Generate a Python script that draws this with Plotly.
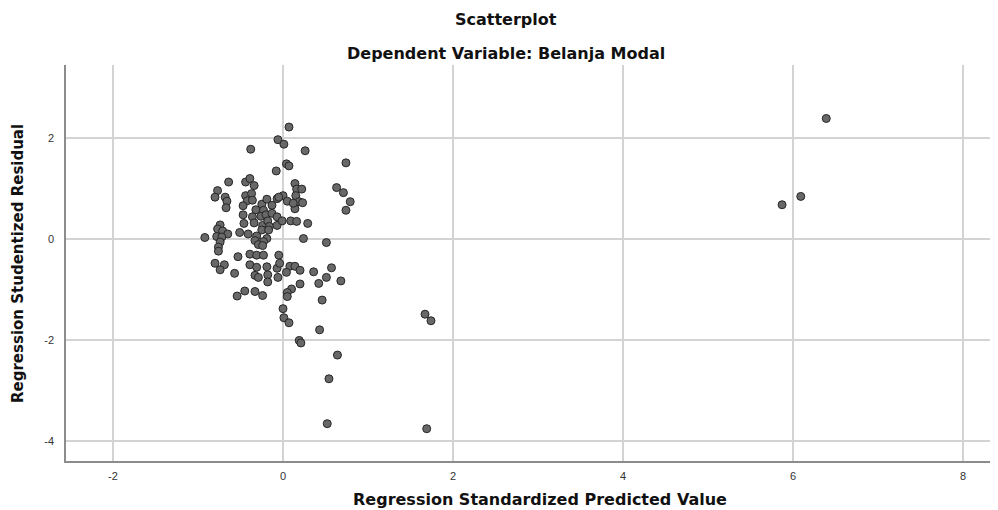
import plotly.graph_objects as go

# Regression Standardized Predicted Value
pred = [
    0.07, -0.06, 0.01, -0.38, 0.26, 0.74, 0.04, 0.07, -0.08, -0.64,
    -0.44, -0.39, -0.34, 0.14, 0.16, 0.22, 0.63, 0.71,
    -0.77, -0.80, -0.68, -0.66, -0.67, -0.44, -0.37, -0.42, -0.36, -0.47,
    -0.32, -0.25, -0.19, -0.13, -0.07, 0.00, -0.05, 0.05, 0.15, 0.19,
    0.23, 0.14, 0.79, 0.74, -0.23, 0.12,
    -0.47, -0.36, -0.26, -0.20, -0.13, -0.07, -0.46, -0.34, -0.24, -0.18,
    -0.16, -0.07, -0.01, 0.09, 0.16, 0.29, -0.25, -0.17, -0.74, -0.77,
    -0.71, -0.65, -0.78, -0.72, -0.92, -0.51, -0.41, -0.31, -0.19, 0.24,
    -0.74, -0.76, -0.76, -0.33, -0.23, -0.29, -0.24, 0.51, -0.53, -0.39,
    -0.31, -0.23, -0.05, -0.80, -0.69, -0.74, -0.57, -0.39, -0.31, -0.33,
    -0.29, -0.19, -0.18, -0.18, -0.07, -0.06, -0.04, 0.08, 0.14, 0.20,
    0.04, 0.57, 0.36, 0.51, 0.20, 0.42, 0.68, -0.54, -0.45, -0.33,
    -0.24, 0.10, 0.05, 0.05, 0.46, 0.00, 0.01, 0.07, 0.43, 0.19,
    0.21, 0.64, 0.54, 0.52, 1.67, 1.74, 1.69, 5.87, 6.09, 6.39,
]

# Regression Studentized Residual
resid = [
    2.22, 1.97, 1.88, 1.78, 1.75, 1.51, 1.49, 1.45, 1.35, 1.13,
    1.13, 1.20, 1.06, 1.10, 0.99, 0.99, 1.02, 0.92,
    0.96, 0.83, 0.83, 0.75, 0.62, 0.86, 0.90, 0.76, 0.77, 0.66,
    0.58, 0.69, 0.79, 0.67, 0.80, 0.86, 0.83, 0.75, 0.86, 0.74,
    0.72, 0.60, 0.74, 0.57, 0.57, 0.71,
    0.48, 0.44, 0.45, 0.48, 0.51, 0.44, 0.31, 0.32, 0.27, 0.36,
    0.25, 0.27, 0.36, 0.36, 0.35, 0.31, 0.18, 0.18, 0.28, 0.20,
    0.16, 0.10, 0.05, 0.04, 0.03, 0.13, 0.10, 0.06, 0.01, 0.01,
    -0.06, -0.16, -0.24, -0.03, -0.05, -0.11, -0.13, -0.07, -0.35, -0.30,
    -0.32, -0.32, -0.32, -0.48, -0.51, -0.61, -0.68, -0.51, -0.56, -0.72,
    -0.76, -0.55, -0.71, -0.85, -0.58, -0.76, -0.48, -0.54, -0.54, -0.62,
    -0.66, -0.57, -0.65, -0.76, -0.89, -0.88, -0.83, -1.13, -1.03, -1.04,
    -1.12, -0.99, -1.06, -1.14, -1.21, -1.38, -1.56, -1.66, -1.80, -2.01,
    -2.06, -2.30, -2.77, -3.66, -1.49, -1.62, -3.76, 0.68, 0.845, 2.39,
]

x_ticks = [-2, 0, 2, 4, 6, 8]
x_tick_labels = ["-2", "0", "2", "4", "6", "8"]
y_ticks = [-4, -2, 0, 2]
y_tick_labels = ["-4", "-2", "0", "2"]

title_main = "Scatterplot"
title_sub = "Dependent Variable: Belanja Modal"
x_title = "Regression Standardized Predicted Value"
y_title = "Regression Studentized Residual"

FONT = "DejaVu Sans, Liberation Sans, Arial, sans-serif"
TICK_FONT = "Liberation Sans, Arial, sans-serif"

# the page body has an 8px margin; work in page pixels and subtract it
OFF = 8
FIG_W, FIG_H = 998 - OFF, 510 - OFF
plot_top, plot_bottom, plot_left, plot_right = 65 - OFF, 461 - OFF, 66 - OFF, 998 - OFF
H = plot_bottom - plot_top
W = plot_right - plot_left


def px(x):
    return (x - OFF - plot_left) / W


def py(y):
    return (plot_bottom - (y - OFF)) / H


fig = go.Figure()
fig.add_trace(go.Scatter(
    x=pred, y=resid, mode="markers",
    marker=dict(size=8, color="#686868", line=dict(color="#262626", width=1)),
    showlegend=False, hoverinfo="x+y",
))

fig.update_layout(
    width=FIG_W, height=FIG_H,
    margin=dict(l=plot_left, r=FIG_W - plot_right, t=plot_top, b=FIG_H - plot_bottom),
    paper_bgcolor="white", plot_bgcolor="white",
    font=dict(family=FONT, color="#222222"),
    xaxis=dict(
        range=[-2.553, 8.41], tickvals=x_ticks, ticktext=x_tick_labels,
        ticks="", ticklabelstandoff=4,
        showgrid=True, gridcolor="#d3d3d3", gridwidth=1.5,
        zeroline=False, showline=True, linecolor="#8c8c8c", linewidth=1.5,
        tickfont=dict(size=11, color="#333333", family=TICK_FONT),
    ),
    yaxis=dict(
        range=[-4.40, 3.45], tickvals=y_ticks, ticktext=y_tick_labels,
        ticks="", ticklabelstandoff=8,
        showgrid=True, gridcolor="#d3d3d3", gridwidth=1.5,
        zeroline=False, showline=True, linecolor="#8c8c8c", linewidth=1.5,
        tickfont=dict(size=11, color="#333333", family=TICK_FONT),
    ),
    annotations=[
        dict(text="<b>%s</b>" % title_main, xref="paper", yref="paper",
             x=px(506), y=py(19), xanchor="center", yanchor="middle", showarrow=False,
             font=dict(size=16, color="#111111", family=FONT)),
        dict(text="<b>%s</b>" % title_sub, xref="paper", yref="paper",
             x=px(506), y=py(53), xanchor="center", yanchor="middle", showarrow=False,
             font=dict(size=16, color="#111111", family=FONT)),
        dict(text="<b>%s</b>" % x_title, xref="paper", yref="paper",
             x=px(540), y=py(499), xanchor="center", yanchor="middle", showarrow=False,
             font=dict(size=16, color="#111111", family=FONT)),
        dict(text="<b>%s</b>" % y_title, xref="paper", yref="paper",
             x=px(18), y=py(264), xanchor="center", yanchor="middle", showarrow=False,
             textangle=-90,
             font=dict(size=15, color="#111111", family=FONT)),
    ],
)

fig.write_html("out.html")
